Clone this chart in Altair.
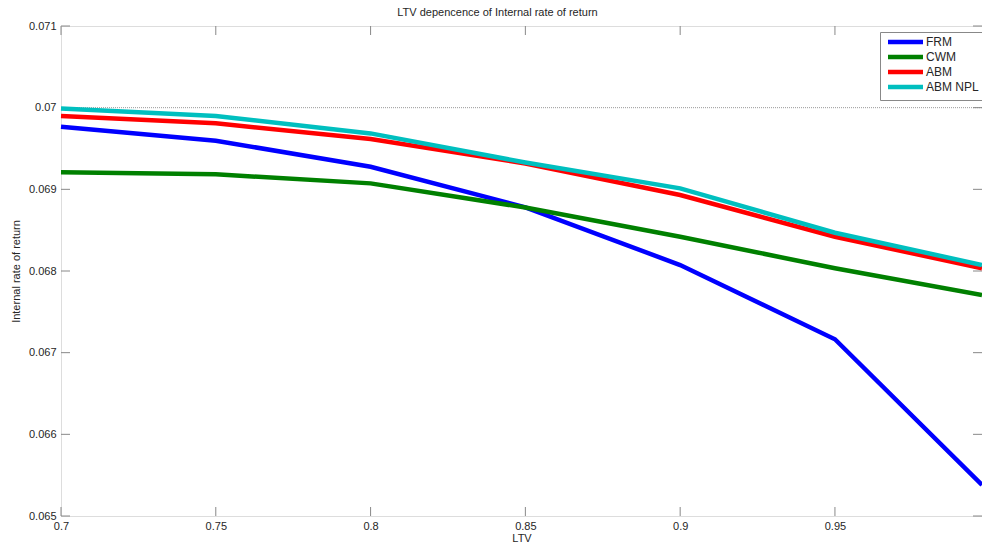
import altair as alt
import pandas as pd

# LTV grid and internal rate of return for each mortgage type
ltv = [0.7, 0.75, 0.8, 0.85, 0.9, 0.95, 0.9975]
frm = [0.069766, 0.069595, 0.069277, 0.068780, 0.068073, 0.067164, 0.065381]
cwm = [0.069208, 0.069184, 0.069073, 0.068777, 0.068420, 0.068033, 0.067706]
abm = [0.069897, 0.069808, 0.069616, 0.069316, 0.068930, 0.068420, 0.068033]
abm_npl = [0.069991, 0.069897, 0.069685, 0.069328, 0.069012, 0.068469, 0.068073]

series_names = ["FRM", "CWM", "ABM", "ABM NPL"]
series_colors = ["#0000FF", "#008000", "#FF0000", "#00BFBF"]

x_ticks = [0.7, 0.75, 0.8, 0.85, 0.9, 0.95]
y_ticks = [0.065, 0.066, 0.067, 0.068, 0.069, 0.07, 0.071]
reference_level = [0.07]

rows = []
for name, vals in zip(series_names, [frm, cwm, abm, abm_npl]):
    for x, v in zip(ltv, vals):
        rows.append({"LTV": x, "IRR": v, "series": name})
df = pd.DataFrame(rows)

W, H = 921, 490
FONT = "Liberation Sans"
GREY = "#888888"
TXT = "#262626"

x_scale = alt.Scale(domain=[0.7, 0.9975], nice=False, zero=False)
y_scale = alt.Scale(domain=[0.065, 0.071], nice=False, zero=False)

x_axis = alt.Axis(values=x_ticks, format="~g", ticks=False, domain=False, grid=False,
                  labelFont=FONT, labelFontSize=11, labelColor=TXT, labelPadding=4,
                  labelFlush=False, title="LTV", titleFont=FONT, titleFontSize=11,
                  titleFontWeight="normal", titleColor=TXT, titlePadding=1)
y_axis = alt.Axis(values=y_ticks, format="~g", ticks=False, domain=False, grid=False,
                  labelFont=FONT, labelFontSize=11, labelColor=TXT, labelPadding=5,
                  labelFlush=False, title="Internal rate of return", titleFont=FONT,
                  titleFontSize=11, titleFontWeight="normal", titleColor=TXT,
                  titlePadding=7)

# dotted reference line at 7%
ref = alt.Chart(pd.DataFrame({"IRR": reference_level})).mark_rule(
    color="#999999", strokeWidth=1, strokeDash=[1, 1]
).encode(y=alt.Y("IRR:Q", scale=y_scale, axis=y_axis))

# legend swatch: a short horizontal stroke, drawn from a small symbol size so rows stay compact
legend_swatch = "M-1,0H16.5"

lines = alt.Chart(df).mark_line(strokeWidth=4.5, strokeCap="butt", strokeJoin="miter").encode(
    x=alt.X("LTV:Q", scale=x_scale, axis=x_axis),
    y=alt.Y("IRR:Q", scale=y_scale, axis=y_axis),
    color=alt.Color("series:N", sort=series_names,
                    scale=alt.Scale(domain=series_names, range=series_colors),
                    legend=alt.Legend(title=None, orient="none", legendX=819, legendY=6,
                                      symbolType=legend_swatch, symbolSize=16,
                                      symbolStrokeWidth=4.5, symbolFillColor="transparent",
                                      labelFont=FONT, labelFontSize=12, labelColor=TXT,
                                      labelOffset=30, rowPadding=-4.3, padding=4,
                                      strokeColor=GREY, fillColor="white")),
    order=alt.Order("LTV:Q"),
)

# inward ticks on all four sides of the box
xt = pd.DataFrame({"LTV": x_ticks})
yt = pd.DataFrame({"IRR": y_ticks})
tick_style = dict(color=GREY, strokeWidth=1)
bottom_ticks = alt.Chart(xt).mark_rule(**tick_style).encode(
    x=alt.X("LTV:Q", scale=x_scale, axis=x_axis), y=alt.value(H), y2=alt.value(H - 9))
top_ticks = alt.Chart(xt).mark_rule(**tick_style).encode(
    x=alt.X("LTV:Q", scale=x_scale, axis=x_axis), y=alt.value(0), y2=alt.value(9))
left_ticks = alt.Chart(yt).mark_rule(**tick_style).encode(
    y=alt.Y("IRR:Q", scale=y_scale, axis=y_axis), x=alt.value(0), x2=alt.value(9))
right_ticks = alt.Chart(yt).mark_rule(**tick_style).encode(
    y=alt.Y("IRR:Q", scale=y_scale, axis=y_axis), x=alt.value(W - 9), x2=alt.value(W))

chart = alt.layer(ref, bottom_ticks, top_ticks, left_ticks, right_ticks, lines).properties(
    width=W, height=H,
    title=alt.TitleParams("LTV depencence of Internal rate of return", font=FONT,
                          fontSize=11, fontWeight="normal", color=TXT, offset=2, dx=-24),
    autosize=alt.AutoSizeParams(type="none"),
    padding={"left": 61, "top": 26, "right": 0, "bottom": 30},
).configure_view(stroke=GREY, strokeWidth=1).configure(background="white")

chart.save("out.html", embed_options={"renderer": "svg", "actions": False})
